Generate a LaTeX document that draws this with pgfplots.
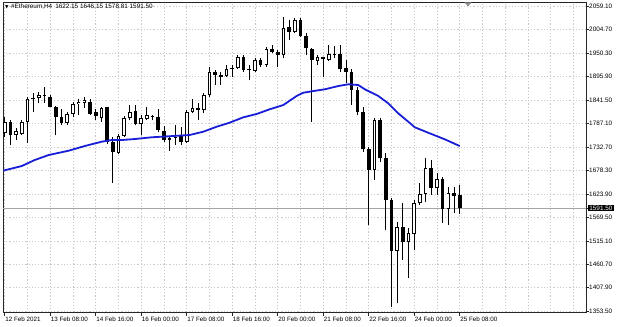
\documentclass[border=0pt]{standalone}
\usepackage{fontspec}
\setmainfont{Liberation Sans}
\newfontfamily\symfont{DejaVu Sans}
\usepackage{pgfplots}
\usepackage{pgfplotstable}
\pgfplotsset{compat=1.18}
\definecolor{maColor}{RGB}{25,30,215}
\definecolor{gridColor}{RGB}{200,200,200}

\pgfplotstableread{
i O H L C
0 1764.8 1803.3 1757.0 1791.7
1 1790.3 1795.6 1737.8 1760.9
2 1760.9 1776.4 1749.3 1770.9
3 1763.2 1795.6 1760.9 1790.3
4 1790.3 1848.2 1741.7 1843.5
5 1845.5 1857.4 1814.8 1843.5
6 1845.9 1861.1 1834.3 1853.5
7 1853.5 1871.3 1834.3 1851.2
8 1849.6 1853.5 1825.0 1826.4
9 1826.4 1829.0 1760.9 1803.3
10 1803.3 1820.4 1784.0 1789.4
11 1789.4 1814.8 1784.0 1809.5
12 1809.5 1838.0 1803.3 1832.0
13 1832.0 1843.5 1807.2 1838.0
14 1834.3 1848.2 1822.7 1841.9
15 1838.0 1843.5 1807.2 1809.5
16 1814.8 1820.4 1795.6 1804.9
17 1799.6 1826.4 1791.7 1822.7
18 1825.0 1826.4 1740.0 1745.0
19 1745.0 1755.6 1649.1 1722.0
20 1720.0 1763.2 1716.0 1758.6
21 1758.6 1804.9 1757.0 1799.6
22 1799.6 1830.3 1795.6 1813.4
23 1817.2 1830.3 1784.0 1786.4
24 1786.0 1807.2 1760.9 1799.6
25 1797.2 1826.4 1795.6 1807.2
26 1804.9 1807.2 1795.6 1802.6
27 1802.6 1820.4 1768.5 1772.5
28 1770.0 1781.7 1744.7 1750.5
29 1750.5 1758.6 1723.9 1754.0
30 1754.0 1784.0 1737.8 1757.0
31 1760.9 1780.1 1737.8 1745.4
32 1745.4 1818.8 1741.7 1814.8
33 1814.8 1843.5 1811.1 1822.7
34 1824.1 1834.3 1795.6 1818.8
35 1818.8 1857.4 1811.1 1853.5
36 1853.5 1919.0 1849.6 1907.4
37 1907.4 1911.4 1876.6 1899.8
38 1899.8 1907.4 1876.6 1895.9
39 1897.5 1922.9 1895.9 1913.0
40 1913.0 1922.9 1895.9 1915.3
41 1915.3 1946.1 1913.0 1942.2
42 1942.2 1946.1 1907.4 1911.4
43 1914.0 1922.9 1888.2 1911.4
44 1909.7 1938.4 1907.4 1934.5
45 1934.5 1938.4 1919.0 1922.9
46 1922.9 1965.3 1919.0 1959.3
47 1959.3 1969.2 1950.0 1953.7
48 1953.7 1957.7 1919.0 1946.1
49 1946.1 2034.7 1938.4 2007.9
50 2010.2 2027.1 1980.8 2000.0
51 2000.0 2031.0 1996.3 2027.1
52 2027.1 2031.0 1988.4 1990.1
53 1990.1 1996.3 1946.1 1961.6
54 1959.3 1961.6 1791.7 1934.5
55 1932.9 1946.1 1922.9 1940.8
56 1940.8 1942.2 1895.9 1936.1
57 1934.5 1969.2 1932.9 1948.4
58 1947.0 1966.9 1938.4 1949.0
59 1948.4 1969.2 1907.4 1913.0
60 1915.3 1934.5 1880.6 1907.4
61 1907.4 1913.0 1830.3 1865.1
62 1865.1 1872.7 1807.2 1814.8
63 1814.8 1826.4 1722.2 1727.8
64 1727.8 1733.8 1552.6 1679.9
65 1679.9 1799.6 1656.7 1795.6
66 1795.6 1799.6 1699.1 1707.0
67 1707.0 1718.5 1541.0 1610.4
68 1610.4 1614.4 1363.5 1493.1
69 1493.1 1560.2 1371.3 1548.6
70 1548.6 1602.8 1471.6 1513.9
71 1513.9 1544.9 1429.2 1534.8
72 1531.7 1610.4 1494.7 1602.8
73 1602.8 1650.5 1598.9 1624.3
74 1624.3 1707.0 1606.5 1685.2
75 1685.2 1703.0 1622.0 1637.5
76 1637.5 1673.6 1622.0 1658.4
77 1658.4 1664.4 1557.9 1588.9
78 1588.9 1641.2 1552.6 1627.3
79 1627.3 1641.2 1579.7 1619.7
80 1622.15 1646.15 1578.81 1591.50
}\candles

\pgfplotstableread{
x y
-0.53 1677.6
3.0 1689.1
5.27 1703.0
7.73 1714.6
11.25 1724.6
14.06 1735.4
17.05 1745.4
18.8 1749.3
20.56 1749.3
22.85 1751.6
25.83 1755.6
27.6 1757.0
29.65 1758.6
32.5 1760.9
34.9 1768.5
37.26 1780.1
39.54 1789.4
41.95 1801.9
44.29 1809.5
46.57 1820.4
48.98 1830.3
51.32 1851.2
52.5 1858.8
54.25 1862.7
56.29 1866.7
58.65 1874.3
60.4 1878.3
62.16 1876.6
63.32 1866.7
65.68 1851.2
67.43 1834.3
69.19 1811.1
70.95 1791.7
72.11 1778.7
74.46 1766.2
77.38 1750.9
80.0 1735.4
}\ma

\begin{document}
\begin{tikzpicture}
\useasboundingbox (-3bp,-14.3bp) rectangle (617bp,312.7bp);
\begin{axis}[
  at={(0,0)}, anchor=south west,
  scale only axis, width=583bp, height=310.7bp,
  xmin=-0.3, xmax=102.2, ymin=1349.6, ymax=2068.8,
  axis line style={draw=black!85, line width=0.8bp},
  xtick={0,8,...,80},
  xticklabels={12 Feb 2021,13 Feb 08:00,14 Feb 16:00,16 Feb 00:00,17 Feb 08:00,18 Feb 16:00,20 Feb 00:00,21 Feb 08:00,22 Feb 16:00,24 Feb 00:00,25 Feb 08:00},
  minor xtick={0,4,...,100},
  ytick={1353.5,1407.9,1460.7,1515.1,1569.5,1623.9,1678.3,1732.7,1787.1,1841.5,1895.9,1950.3,2004.7,2059.1},
  yticklabels={1353.50,1407.90,1460.70,1515.10,1569.50,1623.90,1678.30,1732.70,1787.10,1841.50,1895.90,1950.30,2004.70,2059.10},
  extra y ticks={1591.5},
  extra y tick labels={1591.50},
  extra y tick style={
    major grid style={draw=black!35, solid, line width=0.6bp},
    yticklabel style={fill=black, text=white, inner xsep=1.2bp, inner ysep=0.8bp, xshift=-1bp}},
  grid=both,
  major grid style={draw=gridColor, dash pattern=on 1.2bp off 2bp, line width=0.6bp},
  minor grid style={draw=gridColor, dash pattern=on 1.2bp off 2bp, line width=0.6bp},
  tick align=outside, major tick length=3bp, minor tick length=0bp,
  tick style={draw=black!85, line width=0.6bp},
  xtick pos=bottom, ytick pos=right, yticklabel pos=right,
  xticklabel style={anchor=north west, inner sep=0pt, xshift=0.5bp, yshift=-0.8bp, font=\fontsize{6.3}{7}\selectfont},
  yticklabel style={anchor=west, inner sep=0pt, font=\fontsize{6.4}{7}\selectfont},
  clip=true,
]
% wicks
\addplot[draw=none, no markers, forget plot,
  error bars/.cd, y dir=plus, y explicit, error mark=none,
  error bar style={draw=black, solid, line width=0.9bp}]
  table[x=i, y=L, y error expr={\thisrow{H}-\thisrow{L}}] {\candles};
% bodies (black)
\addplot[draw=none, no markers, forget plot,
  error bars/.cd, y dir=plus, y explicit, error mark=none,
  error bar style={draw=black, solid, line width=3.6bp}]
  table[x=i, y expr={min(\thisrow{O},\thisrow{C})}, y error expr={max(abs(\thisrow{C}-\thisrow{O}),2.3)}] {\candles};
% white interiors for rising candles
\addplot[draw=none, no markers, forget plot,
  restrict expr to domain={\thisrow{C}-\thisrow{O}}{4.5:100000},
  error bars/.cd, y dir=plus, y explicit, error mark=none,
  error bar style={draw=white, solid, line width=1.8bp}]
  table[x=i, y expr={\thisrow{O}+2.1}, y error expr={\thisrow{C}-\thisrow{O}-4.2}] {\candles};
% moving average
\addplot[maColor, line width=1.8bp, mark=none] table[x=x, y=y] {\ma};
\end{axis}
\node[anchor=west, inner sep=0pt] at (2bp,305.8bp) {{\symfont\fontsize{4.5}{5}\selectfont ▼}\hspace{2.5bp}\fontsize{6.4}{7}\selectfont\#Ethereum,H4\hspace{3bp}1622.15 1646.15 1578.81 1591.50};
\fill[black!45] (461.5bp,310.3bp) -- (468.5bp,310.3bp) -- (465bp,306.3bp) -- cycle;
\end{tikzpicture}
\end{document}
